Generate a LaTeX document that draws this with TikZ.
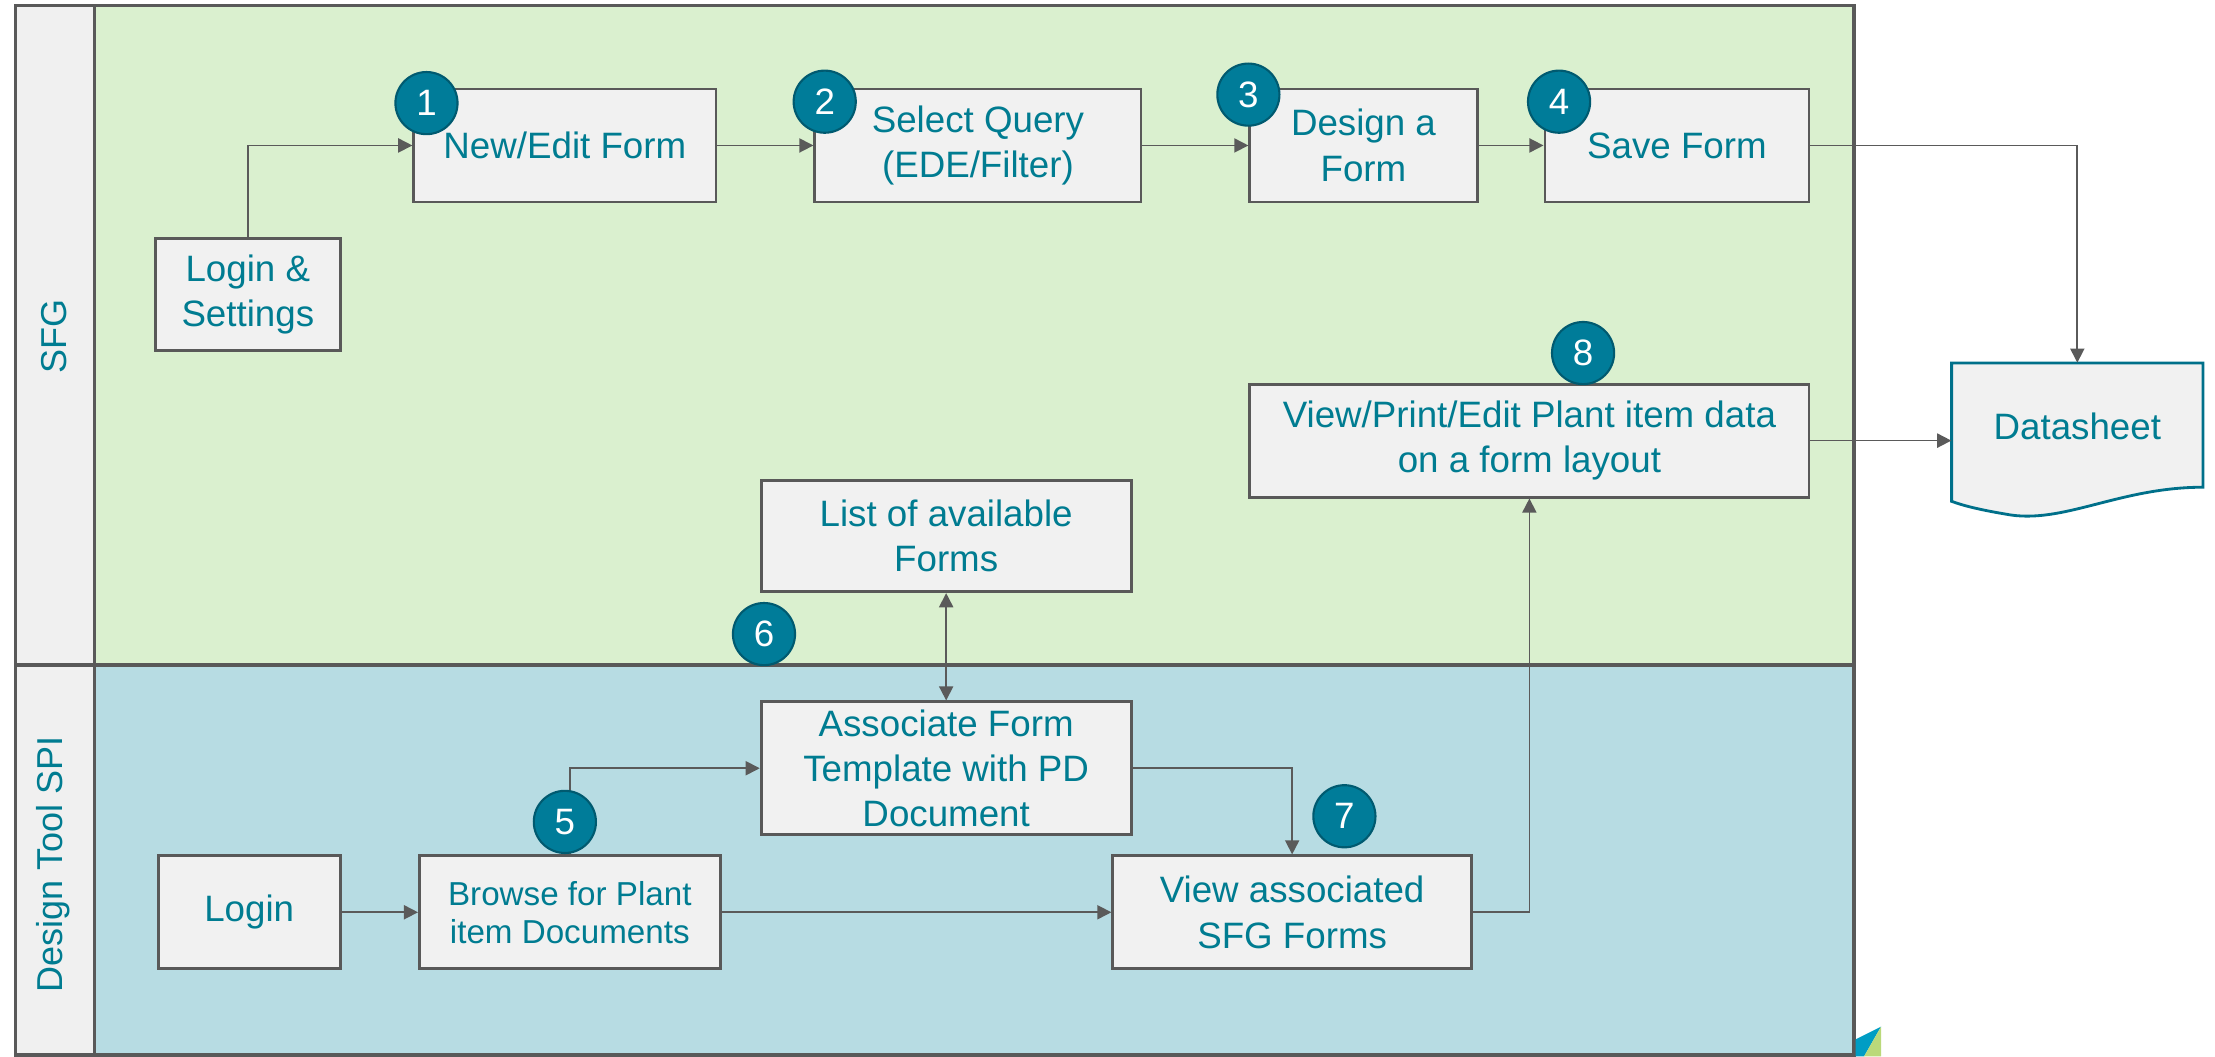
\documentclass[tikz,border=0pt]{standalone}
\usepackage{fontspec}
\setmainfont{Liberation Sans}
\usetikzlibrary{arrows.meta}
\definecolor{txt}{HTML}{007C91}
\definecolor{lanegreen}{HTML}{DAF0CF}
\definecolor{laneblue}{HTML}{B7DCE3}
\definecolor{headfill}{HTML}{F0F0F0}
\definecolor{boxfill}{HTML}{F1F1F1}
\definecolor{boxline}{HTML}{595959}
\definecolor{arrowc}{HTML}{5A5A5A}
\definecolor{numfill}{HTML}{007C99}
\definecolor{numline}{HTML}{005A70}
\definecolor{docline}{HTML}{00708A}
\definecolor{logoblue}{HTML}{009DC4}
\definecolor{logogreen}{HTML}{BAD97A}
\tikzset{
  stepbox/.style={draw=boxline, line width=2pt, fill=boxfill, text=txt, align=center,
    font=\fontsize{26}{32}\selectfont, inner sep=2pt},
  numc/.style={circle, fill=numfill, draw=numline, line width=1.5pt, minimum size=44pt,
    inner sep=0pt, text=white, font=\fontsize{26}{26}\selectfont},
  conn/.style={draw=arrowc, line width=1.2pt, -{Triangle[length=10pt,width=10pt]}},
  lanelabel/.style={rotate=90, text=txt, font=\fontsize{25.5}{30}\selectfont}
}
\begin{document}
\begin{tikzpicture}[x=1pt,y=-1pt]
\useasboundingbox (0,0) rectangle (1568.5,748);
% lanes
\fill[headfill] (11,4) rectangle (67,747);
\fill[lanegreen] (67,4) rectangle (1313,471);
\fill[laneblue] (67,471) rectangle (1313,747);
\draw[boxline, line width=2.5pt] (11,4) rectangle (1313,747);
\draw[boxline, line width=2.5pt] (67,4) -- (67,747);
\draw[boxline, line width=2.5pt] (11,471) -- (1313,471);
\node[lanelabel] (lsfg) at (38,238) {SFG};
\node[lanelabel] (ldt) at (38,612) {Design Tool SPI};

% boxes
\node[stepbox, minimum width=131pt, minimum height=79pt] (lset) at (175.5,208.5) {Login \&\\Settings};
\node[stepbox, minimum width=214pt, minimum height=80pt] (nedit) at (400,103) {New/Edit Form};
\node[stepbox, minimum width=231pt, minimum height=80pt] (selq) at (692.5,103) {Select Query\\(EDE/Filter)};
\node[stepbox, minimum width=161pt, minimum height=80pt] (design) at (965.5,103) {Design a\\Form};
\node[stepbox, minimum width=187pt, minimum height=80pt] (save) at (1187.5,103) {Save Form};
\node[stepbox, minimum width=396pt, minimum height=80pt] (view8) at (1083,312) {View/Print/Edit Plant item data\\on a form layout};
\node[stepbox, minimum width=262pt, minimum height=79pt] (list) at (670,379.5) {List of available\\Forms};
\node[stepbox, minimum width=262pt, minimum height=94pt] (assoc) at (670,544) {Associate Form\\Template with PD\\Document};
\node[stepbox, minimum width=129pt, minimum height=80pt] (login) at (176.5,646) {Login};
\node[stepbox, minimum width=213pt, minimum height=80pt, font=\fontsize{23.5}{27}\selectfont] (browse) at (403.5,646) {Browse for Plant\\item Documents};
\node[stepbox, minimum width=254pt, minimum height=80pt] (viewsfg) at (915,646) {View associated\\SFG Forms};

% datasheet document
\draw[docline, line width=2pt, fill=boxfill] (1382,257) -- (1560,257) -- (1560,345)
  .. controls (1500,345) and (1460,372) .. (1420,364)
  .. controls (1402,361) and (1390,358) .. (1382,355) -- cycle;
\node[minimum width=178pt, minimum height=90pt, text=txt, font=\fontsize{26}{31}\selectfont, inner sep=0pt] (ds) at (1471,302) {Datasheet};

% connectors
\draw[conn] (lset.north) |- (nedit.west);
\draw[conn] (nedit.east) -- (selq.west);
\draw[conn] (selq.east) -- (design.west);
\draw[conn] (design.east) -- (save.west);
\draw[conn] (save.east) -| (ds.north);
\draw[conn] (view8.east) -- (view8.east -| ds.west);
\draw[conn, {Triangle[length=10pt,width=10pt]}-{Triangle[length=10pt,width=10pt]}] (list.south) -- (assoc.north);
\draw[conn] (browse.north) |- (assoc.west);
\draw[conn] (assoc.east) -| (viewsfg.north);
\draw[conn] (login.east) -- (browse.west);
\draw[conn] (browse.east) -- (viewsfg.west);
\draw[conn] (viewsfg.east) -| (view8.south);

% numbers
\node[numc] (c1) at (302,73) {1};
\node[numc] (c2) at (584,72) {2};
\node[numc] (c3) at (884,67) {3};
\node[numc] (c4) at (1104,72) {4};
\node[numc] (c8) at (1121,250) {8};
\node[numc] (c6) at (541,449) {6};
\node[numc] (c5) at (400,582) {5};
\node[numc] (c7) at (952,578) {7};

% logo
\fill[logoblue] (1314,736) -- (1332,727) -- (1320,748) -- (1314,748) -- cycle;
\fill[logogreen] (1332,727) -- (1332,748) -- (1320,748) -- cycle;
\end{tikzpicture}
\end{document}
